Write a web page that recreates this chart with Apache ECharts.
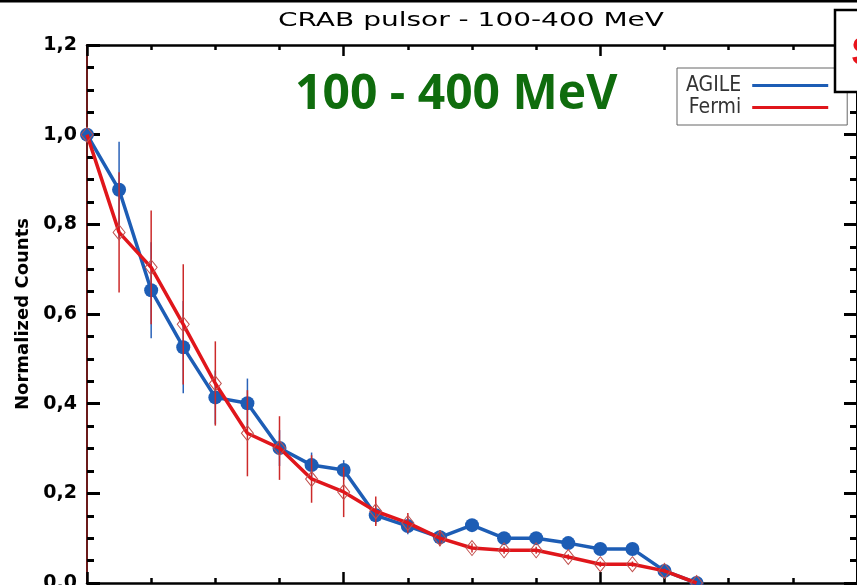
<!DOCTYPE html>
<html><head><meta charset="utf-8">
<script src="https://cdn.jsdelivr.net/npm/echarts@6/dist/echarts.min.js"></script>
<style>html,body{margin:0;padding:0;background:#fff}#c{width:857px;height:585px}</style>
</head><body><div id="c"></div>
<script>
// phase bins (index of profile bin)
var bins = [0,1,2,3,4,5,6,7,8,9,10,11,12,13,14,15,16,17,18,19];
var agile = [1.0,0.877,0.653,0.526,0.414,0.401,0.301,0.263,0.252,0.151,0.127,0.102,0.129,0.100,0.100,0.089,0.076,0.076,0.027,0.0];
var agileErr = [0,0.107,0.107,0.103,0.06,0.055,0.04,0.028,0.022,0.02,0.018,0.015,0.013,0.012,0.012,0.01,0.01,0.01,0.01,0];
var fermi = [1.0,0.782,0.704,0.577,0.445,0.334,0.301,0.232,0.203,0.160,0.134,0.100,0.078,0.073,0.073,0.058,0.042,0.042,0.027,0.0];
var fermiErr = [0,0.134,0.127,0.134,0.094,0.096,0.071,0.053,0.056,0.033,0.022,0.018,0.01,0.008,0.008,0.006,0.006,0.006,0.005,0];
var yTicks = [0,0.2,0.4,0.6,0.8,1.0,1.2];

var BLUE = '#1d5db5', RED = '#e0161b';
function pts(v){ return bins.map(function(b,i){ return [b, v[i]]; }); }
function errPts(v,e){ return bins.map(function(b,i){ return [b, v[i], e[i]]; }); }
function errRender(color, w){
  return function(params, api){
    var x = api.value(0), y = api.value(1), e = api.value(2);
    if (!e) return null;
    var a = api.coord([x, y + e]), b = api.coord([x, y - e]);
    return {type:'line', shape:{x1:a[0], y1:a[1], x2:b[0], y2:b[1]}, style:{stroke:color, lineWidth:w}};
  };
}
function yAxisCfg(pos, showLabel){
  return {
    type:'value', position:pos, min:yTicks[0], max:yTicks[yTicks.length-1], interval:0.2,
    axisLine:{show:true, onZero:false, lineStyle:{color: pos==='left' ? '#6b1a1a' : '#000', width:2}},
    axisTick:{show:true, inside:true, length:13, lineStyle:{color:'#000', width:3}},
    minorTick:{show:true, splitNumber:4, length:7, lineStyle:{color:'#000', width:3}},
    splitLine:{show:false}, minorSplitLine:{show:false},
    axisLabel:{show:showLabel, margin:10, formatter:function(v){return v.toFixed(1).replace('.',',');},
      fontFamily:'DejaVu Sans', fontWeight:'bold', fontSize:19, color:'#000'},
    name: showLabel ? 'Normalized Counts' : '', nameLocation:'middle', nameGap:55,
    nameTextStyle:{fontFamily:'DejaVu Sans', fontWeight:'bold', fontSize:18, color:'#000'}
  };
}
function xAxisCfg(pos){
  return {
    type:'value', position:pos, min:0, max:24, interval:8,
    axisLine:{show:true, onZero:false, lineStyle:{color:'#000', width:2.5}},
    axisTick:{show:true, inside:true, length:11, lineStyle:{color:'#000', width:2.5}},
    minorTick:{show:true, splitNumber:4, length:5, lineStyle:{color:'#000', width:2.5}},
    splitLine:{show:false}, axisLabel:{show:false}
  };
}
var chart = echarts.init(document.getElementById('c'), null, {renderer:'canvas'});
chart.setOption({
  animation:false,
  backgroundColor:'#fff',
  grid:{left:87, right:0, top:45, bottom:2, outerBoundsMode:'none'},
  xAxis:[xAxisCfg('bottom'), xAxisCfg('top')],
  yAxis:[yAxisCfg('left', true), yAxisCfg('right', false)],
  legend:{
    orient:'vertical', left:677, top:68, align:'right',
    itemWidth:76, itemHeight:3, itemGap:1, icon:'rect',
    padding:[7,19,7,9], borderColor:'#666', borderWidth:1, backgroundColor:'#fff',
    textStyle:{fontFamily:"'Liberation Sans Narrow','DejaVu Sans Condensed',sans-serif", fontSize:21, color:'#333', width:60, align:'left', padding:[0,6,0,0]},
    data:[{name:'AGILE', itemStyle:{color:BLUE, borderWidth:0}}, {name:'Fermi', itemStyle:{color:RED, borderWidth:0}}]
  },
  graphic:[
    {type:'rect', shape:{x:0, y:0, width:857, height:2.5}, style:{fill:'#000'}, z:100},
    {type:'text', x:278, y:21, scaleX:1.4, style:{text:'CRAB pulsor - 100-400 MeV', font:'20px "DejaVu Sans"', fill:'#000', align:'left', verticalAlign:'middle'}, z:100},
    {type:'text', x:295, y:95, style:{text:'100 - 400 MeV', font:'bold 48px "Open Sans"', fill:'#0f6c0d', align:'left', verticalAlign:'middle'}, z:100},
    {type:'rect', shape:{x:835, y:10, width:40, height:82}, style:{fill:'#fff', stroke:'#000', lineWidth:2.5}, z:100},
    {type:'text', x:851, y:54, style:{text:'S', font:'bold 40px "Liberation Sans"', fill:'#e8141b', align:'left', verticalAlign:'middle'}, z:101}
  ],
  series:[
    {type:'custom', name:'AGILE err', z:2, renderItem:errRender('#2a62b8',1.5), data:errPts(agile, agileErr), encode:{x:0,y:1}},
    {type:'line', name:'AGILE', z:3, data:pts(agile), symbol:'circle', symbolSize:14,
      lineStyle:{color:BLUE, width:3.5}, itemStyle:{color:BLUE}, clip:false},
    {type:'custom', name:'Fermi err', z:4, renderItem:errRender('#cc2a2a',1.5), data:errPts(fermi, fermiErr), encode:{x:0,y:1}},
    {type:'line', name:'Fermi', z:5, data:pts(fermi), symbol:'diamond', symbolSize:[12,15],
      lineStyle:{color:RED, width:3.5}, itemStyle:{color:'rgba(255,255,255,0)', borderColor:'#c0504d', borderWidth:1}, clip:false}
  ]
});
</script></body></html>
